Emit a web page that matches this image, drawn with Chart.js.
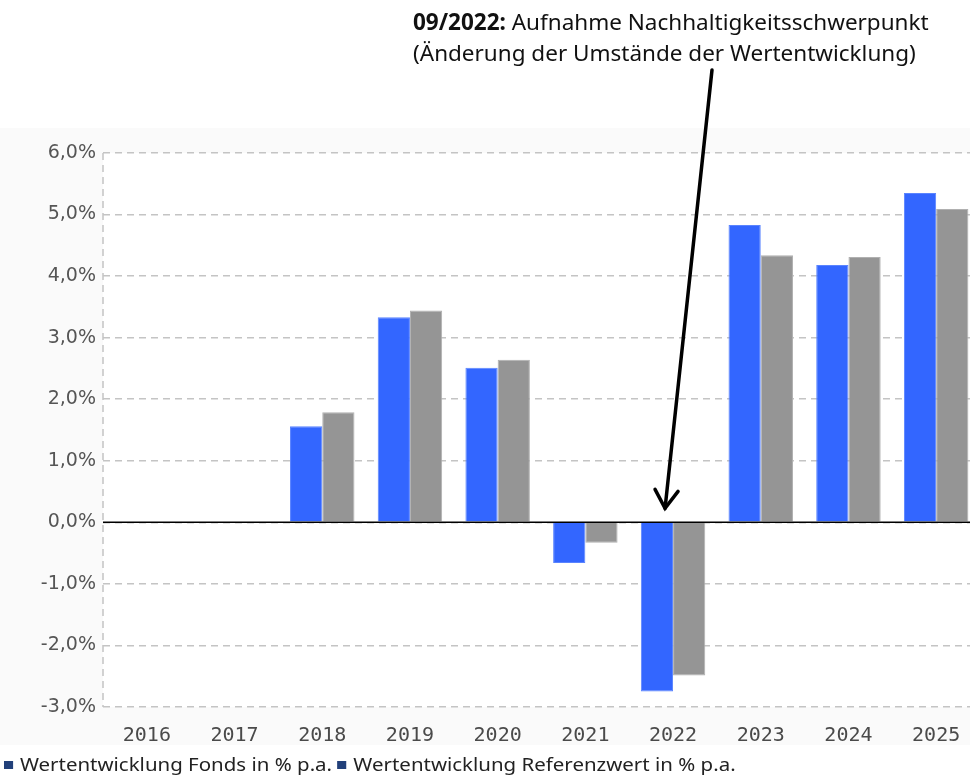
<!DOCTYPE html>
<html lang="de">
<head>
    <meta charset="UTF-8">
    <title>Wertentwicklung</title>
    <script src="https://cdn.jsdelivr.net/npm/chart.js"></script>
    <style>
        html, body { margin: 0; padding: 0; background: #fff; }
        body { width: 970px; height: 778px; overflow: hidden; position: relative; }
        #wrap { position: absolute; left: 0; top: 0; width: 985px; height: 778px; }
        .note {
            position: absolute; left: 413px; top: 6px;
            font-family: "Noto Sans", sans-serif; font-size: 22.5px; line-height: 31px; color: #111;
        }
        .legend {
            position: absolute; left: 4px; top: 752px; white-space: nowrap;
            font-family: "Noto Sans", sans-serif; font-size: 18px; color: #222;
            transform-origin: 0 0;
        }
        .sq { display: inline-block; width: 8px; height: 8px; background: #22407a; margin-right: 6px; vertical-align: 2px; }
    </style>
</head>
<body>
    <div id="wrap"><canvas id="chart" width="985" height="778"></canvas></div>
    <div class="note"><b>09/2022:</b> Aufnahme Nachhaltigkeitsschwerpunkt<br>(Änderung der Umstände der Wertentwicklung)</div>
    <div class="legend" id="legend"><span class="sq"></span>Wertentwicklung Fonds in % p.a. <span class="sq"></span>Wertentwicklung Referenzwert in % p.a.</div>

    <script>
        const years = ['2016', '2017', '2018', '2019', '2020', '2021', '2022', '2023', '2024', '2025'];
        const fonds = [null, null, 1.56, 3.33, 2.51, -0.66, -2.75, 4.83, 4.18, 5.35];
        const referenz = [null, null, 1.79, 3.44, 2.64, -0.33, -2.49, 4.34, 4.31, 5.09];
        const yMin = -3, yMax = 6, yStep = 1;
        const markIndex = 6; // 2022

        // Legende auf Referenzbreite bringen
        const lg = document.getElementById('legend');
        lg.style.transform = 'scaleX(' + (731 / lg.offsetWidth).toFixed(3) + ')';

        // grauer Hintergrund ausserhalb der Plotflaeche
        const bgPlugin = {
            id: 'bg',
            beforeDraw(chart) {
                const { ctx, chartArea: a } = chart;
                ctx.save();
                ctx.fillStyle = '#fafafa';
                ctx.fillRect(0, 128, chart.width, 617);
                ctx.fillStyle = '#fff';
                ctx.fillRect(a.left, a.top, a.right - a.left, a.bottom - a.top);
                ctx.restore();
            }
        };

        // gestrichelte y-Achse, Nulllinie + Pfeil
        const overlayPlugin = {
            id: 'overlay',
            beforeDatasetsDraw(chart) {
                const { ctx, chartArea: a } = chart;
                ctx.save();
                ctx.strokeStyle = '#c4c4c4';
                ctx.lineWidth = 1.5;
                ctx.setLineDash([7, 5]);
                ctx.beginPath();
                ctx.moveTo(a.left, a.top);
                ctx.lineTo(a.left, a.bottom);
                ctx.stroke();
                ctx.restore();
            },
            afterDatasetsDraw(chart) {
                const { ctx, chartArea: a, scales } = chart;
                const y0 = scales.y.getPixelForValue(0);
                ctx.save();
                ctx.strokeStyle = '#000';
                ctx.lineWidth = 1.5;
                ctx.beginPath();
                ctx.moveTo(a.left, y0);
                ctx.lineTo(a.right, y0);
                ctx.stroke();

                const tx = scales.x.getPixelForValue(markIndex) - 8;
                const ty = y0 - 14;
                ctx.lineWidth = 3.5;
                ctx.lineCap = 'round';
                ctx.beginPath();
                ctx.moveTo(712, 70);
                ctx.lineTo(tx, ty);
                ctx.stroke();
                ctx.beginPath();
                ctx.moveTo(tx - 10, ty - 19);
                ctx.lineTo(tx, ty);
                ctx.lineTo(tx + 13, ty - 17);
                ctx.stroke();
                ctx.restore();
            }
        };

        new Chart(document.getElementById('chart'), {
            type: 'bar',
            data: {
                labels: years,
                datasets: [{
                    label: 'Wertentwicklung Fonds in % p.a.',
                    data: fonds,
                    backgroundColor: '#3366ff',
                    borderColor: '#5a84ff',
                    borderWidth: 1,
                    categoryPercentage: 0.735,
                    barPercentage: 1.0
                }, {
                    label: 'Wertentwicklung Referenzwert in % p.a.',
                    data: referenz,
                    backgroundColor: '#959595',
                    borderColor: '#b0b0b0',
                    borderWidth: 1,
                    categoryPercentage: 0.735,
                    barPercentage: 1.0
                }]
            },
            options: {
                responsive: false,
                animation: false,
                layout: { padding: { top: 153, right: 5, bottom: 33, left: 0 } },
                plugins: { legend: { display: false }, tooltip: { enabled: false } },
                scales: {
                    x: {
                        grid: { display: false },
                        border: { display: false },
                        ticks: { color: '#4a4a4a', padding: 9, font: { family: 'DejaVu Sans Mono', size: 20 } },
                        afterFit(s) { s.height = 38; }
                    },
                    y: {
                        min: yMin, max: yMax,
                        grid: { color: '#c4c4c4', lineWidth: 1.5, drawTicks: false },
                        border: { display: false, dash: [7, 5] },
                        ticks: {
                            stepSize: yStep, padding: 7, color: '#555',
                            font: { family: 'DejaVu Sans', size: 19 },
                            callback: v => v.toFixed(1).replace('.', ',') + '%'
                        },
                        afterFit(s) { s.width = 103; }
                    }
                }
            },
            plugins: [bgPlugin, overlayPlugin]
        });
    </script>
</body>
</html>
